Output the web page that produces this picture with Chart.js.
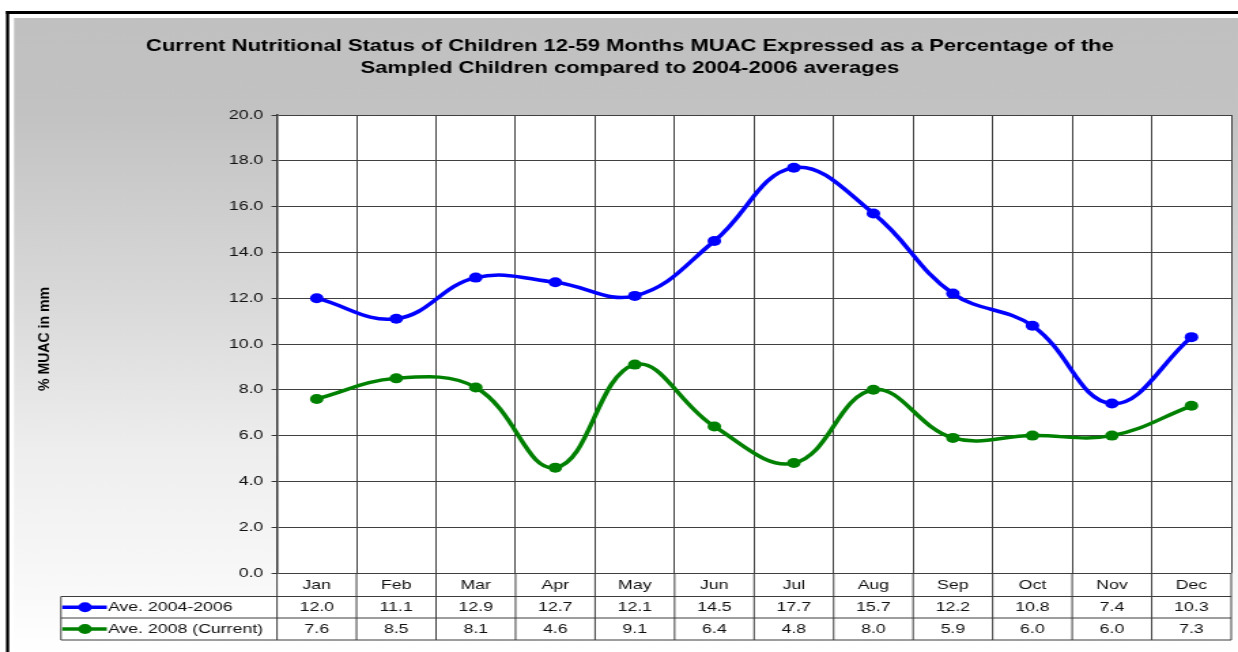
<!DOCTYPE html>
<html><head><meta charset="utf-8">
<script src="https://cdn.jsdelivr.net/npm/chart.js@4.4.1/dist/chart.umd.min.js"></script>
<style>
html,body{margin:0;padding:0;background:#fff;overflow:hidden;}
#wrap{width:1238px;height:652px;position:relative;overflow:hidden;}
#c{position:absolute;left:0;top:0;transform-origin:0 0;}
</style></head><body>
<div id="wrap"><canvas id="c" width="910" height="652"></canvas></div>
<script>
// ---- data ----
const months = ['Jan','Feb','Mar','Apr','May','Jun','Jul','Aug','Sep','Oct','Nov','Dec'];
const ave0406 = [12.0, 11.1, 12.9, 12.7, 12.1, 14.5, 17.7, 15.7, 12.2, 10.8, 7.4, 10.3];
const ave2008 = [7.6, 8.5, 8.1, 4.6, 9.1, 6.4, 4.8, 8.0, 5.9, 6.0, 6.0, 7.3];
const seriesNames = ['Ave. 2004-2006', 'Ave. 2008 (Current)'];
const seriesColors = ['#0000ff', '#008000'];
const titleLines = ['Current Nutritional Status of Children 12-59 Months MUAC Expressed as a Percentage of the',
                    'Sampled Children compared to 2004-2006 averages'];
const yAxisTitle = '% MUAC in mm';
const yMin = 0, yMax = 20, yStep = 2;

// ---- layout (native canvas, stretched horizontally to 1238px) ----
const NATIVE_W = 910, SX = 1238 / NATIVE_W;
const canvas = document.getElementById('c');
canvas.style.width = NATIVE_W + 'px';
canvas.style.height = '652px';
canvas.style.transform = 'scaleX(' + SX + ')';

const FONT = '"Liberation Sans", Arial, sans-serif';
const ROWS = [573, 596.5, 618, 640];
const LEG_LEFT = 44.8;

const decor = {
  id: 'decor',
  beforeDraw(chart) {
    const ctx = chart.ctx, W = chart.width, H = chart.height, a = chart.chartArea;
    ctx.save();
    ctx.fillStyle = '#fff';
    ctx.fillRect(0, 0, W, H);
    const g = ctx.createLinearGradient(0, 0, 0, H);
    g.addColorStop(0, '#c0c0c0');
    g.addColorStop(110 / H, '#c2c2c2');
    g.addColorStop(300 / H, '#d9d9d9');
    g.addColorStop(450 / H, '#eeeeee');
    g.addColorStop(580 / H, '#f8f8f8');
    g.addColorStop(1, '#ffffff');
    ctx.fillStyle = g;
    ctx.fillRect(10.3, 18, W - 10.3, H - 18);
    ctx.fillStyle = '#000';
    ctx.fillRect(4.4, 11, W, 3);
    ctx.fillRect(4.4, 11, 2.3, H);
    ctx.fillStyle = '#fff';
    ctx.fillRect(a.left, a.top, a.right - a.left, a.bottom - a.top);
    ctx.fillRect(a.left, ROWS[0], a.right - a.left, ROWS[3] - ROWS[0]);
    ctx.fillRect(LEG_LEFT, ROWS[1], a.left - LEG_LEFT, ROWS[3] - ROWS[1]);
    // title
    ctx.fillStyle = '#000';
    ctx.font = 'bold 16.2px ' + FONT;
    ctx.textAlign = 'center';
    ctx.textBaseline = 'alphabetic';
    ctx.fillText(titleLines[0], 463, 51);
    ctx.fillText(titleLines[1], 463, 72.5);
    // y axis title
    ctx.save();
    ctx.translate(35.8, 339);
    ctx.rotate(-Math.PI / 2);
    ctx.font = 'bold 11.5px ' + FONT;
    const tw = ctx.measureText(yAxisTitle).width;
    ctx.scale(104 / tw, 1);
    ctx.textBaseline = 'alphabetic';
    ctx.fillText(yAxisTitle, 0, 0);
    ctx.restore();
    ctx.restore();
  },
  afterDraw(chart) {
    const ctx = chart.ctx, a = chart.chartArea, xs = chart.scales.x;
    const n = months.length, colW = (a.right - a.left) / n;
    ctx.save();
    ctx.strokeStyle = '#3c3c3c';
    ctx.lineWidth = 1;
    ctx.beginPath();
    [ROWS[1], ROWS[2], ROWS[3]].forEach(y => { ctx.moveTo(LEG_LEFT, y); ctx.lineTo(a.right, y); });
    for (let i = 0; i <= n; i++) {
      const x = a.left + i * colW;
      ctx.moveTo(x, ROWS[0]); ctx.lineTo(x, ROWS[3]);
    }
    ctx.moveTo(LEG_LEFT, ROWS[1]); ctx.lineTo(LEG_LEFT, ROWS[3]);
    ctx.stroke();
    // text
    ctx.fillStyle = '#111';
    ctx.font = '13px ' + FONT;
    ctx.textAlign = 'center';
    ctx.textBaseline = 'middle';
    const mid = r => (ROWS[r] + ROWS[r + 1]) / 2 + 0.5;
    months.forEach((m, i) => {
      const cx = xs.getPixelForValue(i);
      ctx.fillText(m, cx, mid(0));
      ctx.fillText(ave0406[i].toFixed(1), cx, mid(1));
      ctx.fillText(ave2008[i].toFixed(1), cx, mid(2));
    });
    // legend keys
    ctx.textAlign = 'left';
    seriesNames.forEach((name, k) => {
      const y = mid(k + 1) - 0.5;
      ctx.strokeStyle = seriesColors[k];
      ctx.lineWidth = 3.5;
      ctx.beginPath(); ctx.moveTo(45.8, y); ctx.lineTo(78.5, y); ctx.stroke();
      ctx.fillStyle = seriesColors[k];
      ctx.beginPath(); ctx.arc(62.5, y, 5, 0, Math.PI * 2); ctx.fill();
      ctx.fillStyle = '#111';
      ctx.fillText(name, 79.4, y + 0.5);
    });
    ctx.restore();
  }
};

new Chart(canvas, {
  type: 'line',
  data: {
    labels: months,
    datasets: [ave0406, ave2008].map((d, k) => ({
      label: seriesNames[k],
      data: d,
      borderColor: seriesColors[k],
      backgroundColor: seriesColors[k],
      borderWidth: 3.5,
      pointRadius: 5,
      pointBorderWidth: 0,
      tension: 0.4,
      fill: false
    }))
  },
  options: {
    responsive: false,
    animation: false,
    devicePixelRatio: 1,
    layout: { padding: { left: 0, right: 5, top: 115, bottom: 79 } },
    plugins: { legend: { display: false }, title: { display: false }, tooltip: { enabled: false } },
    scales: {
      x: {
        type: 'category', offset: true,
        grid: { offset: true, color: '#404040', lineWidth: 1, drawTicks: false },
        border: { display: false },
        ticks: { display: false },
        afterFit: s => { s.height = 0; }
      },
      y: {
        min: yMin, max: yMax,
        ticks: { stepSize: yStep, callback: v => Number(v).toFixed(1), font: { family: FONT, size: 13 }, color: '#111', padding: 6 },
        grid: { color: '#404040', lineWidth: 1, tickLength: 4, tickColor: '#333' },
        border: { color: '#333', width: 1.5 },
        afterFit: s => { s.width = 203.6; }
      }
    }
  },
  plugins: [decor]
});
</script>
</body></html>
